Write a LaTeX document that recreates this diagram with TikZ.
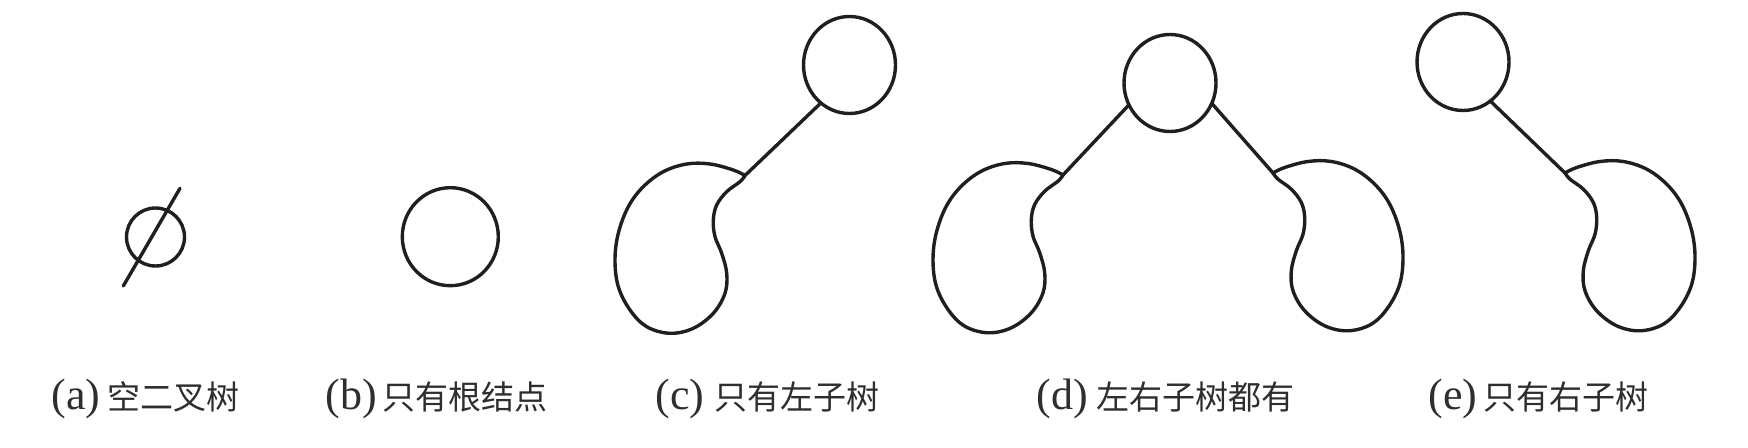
\documentclass[tikz,border=0pt]{standalone}
\usepackage{fontspec}
\setmainfont{Liberation Serif}
\newfontfamily\cjk{Noto Sans CJK SC}
\usetikzlibrary{shapes.geometric}
\newcommand{\lat}[1]{{\rmfamily\fontsize{22pt}{24pt}\selectfont #1}}
\begin{document}
\begin{tikzpicture}[x=0.5pt,y=-0.5pt,
  ln/.style={line width=1.7pt, draw=black!88, line cap=round},
  nd/.style={ellipse, draw=black!88, line width=1.7pt, minimum width=46pt, minimum height=48.5pt, inner sep=0pt, outer sep=0pt},
  lab/.style={anchor=base west, inner sep=0pt, text=black!82, font=\fontsize{16.5pt}{18pt}\selectfont\cjk},
  leftblob/.pic={\draw[ln, line join=round] plot[smooth, tension=0.6] coordinates {(0,0) (-11.7,-5.5) (-35,-11.5) (-58.3,-11.5) (-81.7,-3.8) (-101.7,11.2) (-116.7,31.2) (-126.7,57.8) (-130,84.5) (-126.7,111.2) (-115,134.5) (-98.3,151.2) (-75,157.8) (-51.7,152.8) (-31.7,137.8) (-20,117.8) (-18.3,97.8) (-23.3,77.8) (-30,61.2) (-31.7,44.5) (-28.3,29.5) (-18.3,16.2) (-5,6.2) (0,0)};}
]
\useasboundingbox (0,0) rectangle (1748,448);
% (a)
\node[nd, minimum width=29pt, minimum height=29pt] (a0) at (155.5,237) {};
\coordinate (a1) at (180,188.3);
\coordinate (a2) at (123.3,286);
\draw[ln] (a1) -- (a2);
% (b)
\node[nd, minimum width=48pt, minimum height=49pt] (b0) at (450.3,236.7) {};
% (c)
\node[nd] (c0) at (849.5,65) {};
\coordinate (cA) at (745,175.5);
\path (cA) pic {leftblob};
\draw[ln] (cA) -- (c0.233);
% (d)
\node[nd] (d0) at (1170,83) {};
\coordinate (dL) at (1063,175);
\coordinate (dR) at (1273,173);
\path (dL) pic {leftblob};
\path (dR) pic[xscale=-1] {leftblob};
\draw[ln] (dL) -- (d0.208);
\draw[ln] (dR) -- (d0.334);
% (e)
\node[nd] (e0) at (1463,62) {};
\coordinate (eA) at (1565,173);
\path (eA) pic[xscale=-1] {leftblob};
\draw[ln] (eA) -- (e0.305);
% labels
\node[lab] (la) at (51,409) {\lat{(a)}\hspace{3.5pt}空二叉树};
\node[lab] (lb) at (325,409) {\lat{(b)}\hspace{3pt}只有根结点};
\node[lab] (lc) at (655,409) {\lat{(c)}\hspace{5pt}只有左子树};
\node[lab] (ld) at (1036,409) {\lat{(d)}\hspace{4.5pt}左右子树都有};
\node[lab] (le) at (1428,409) {\lat{(e)}\hspace{3pt}只有右子树};
\end{tikzpicture}
\end{document}
